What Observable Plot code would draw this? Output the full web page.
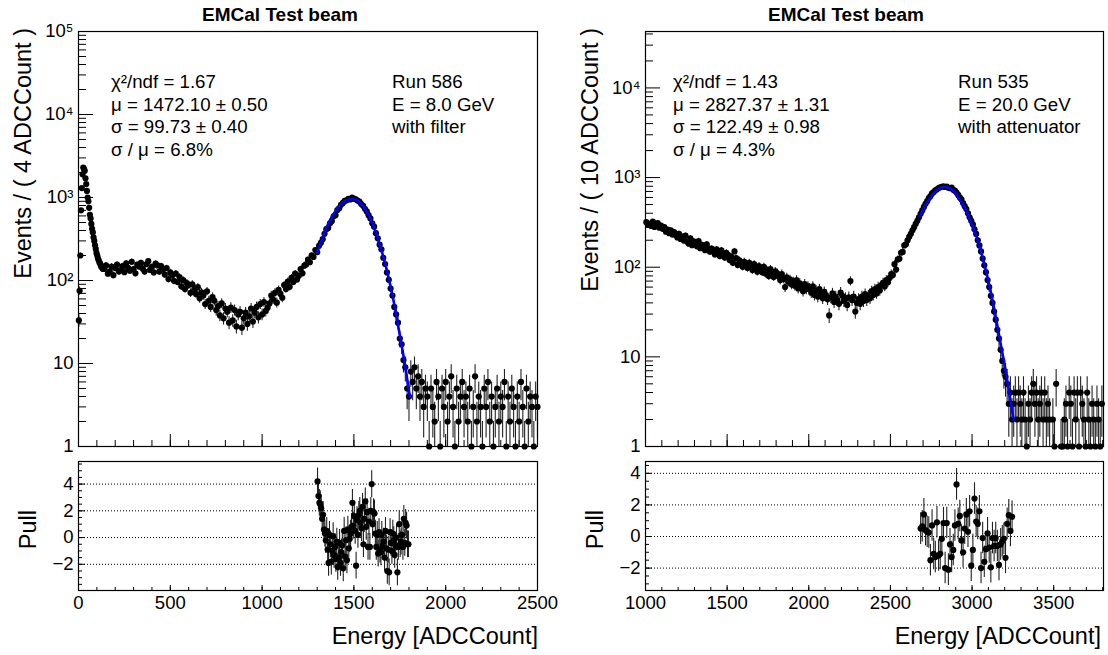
<!DOCTYPE html>
<html><head><meta charset="utf-8">
<script src="https://cdn.jsdelivr.net/npm/d3@7"></script>
<script src="https://cdn.jsdelivr.net/npm/@observablehq/plot@0.6"></script>
<style>
html,body{margin:0;padding:0;background:#fff;}
#chart{position:relative;width:1108px;height:655px;overflow:hidden;background:#fff;}
#chart > svg{position:absolute;}
</style></head><body><div id="chart"></div>
<script>
// ---------------- DATA ----------------
// Left panel (Run 586, 4 ADC bins)
const leftSpikeE = [2,6,10,14,18,22,26,30,34,38,42,46,50,54,58,62,66,70,74,78,82,86,90,94,98,102,106,110,114,118,122,126,130,134];
const leftSpikeN = [33,75,200,700,1300,1900,2300,2200,2100,1700,1450,1200,1000,900,750,620,560,480,420,380,330,300,265,240,215,200,185,175,165,160,150,145,140,138];
const leftBandStart = 140, leftBandStep = 10;
const leftBandN = [
138,152,121,129,147,116,141,155,128,133,
149,126,161,142,131,168,137,122,155,147,
163,139,128,157,171,134,146,125,160,152,
128,149,136,118,141,104,125,116,99,121,
96,110,85,101,79,93,88,71,90,77,
69,83,61,72,66,52,74,57,48,63,
57,44,49,38,53,35,46,42,31,47,
33,44,28,39,42,27,35,41,30,37,
46,32,41,48,36,52,39,55,43,47,
53,66,59,71,54,77,69,62,88,79,
97,84,108,96,121,103,114,137,122,151,
156,178,166,201,192,233,219,262,284,315,
366,415,428,489,520,594,612,705,744,815,
860,910,925,960,948,995,968,952,918,895,
835,795,730,680,612,560,488,445,372,322,
270,238,188,158,125,102,80,66,48,39,
31,20,17,11,9,5,4,
8,6,9,5,7,4,6,3,5,4,
1,5,3,2,6,4,1,5,3,6,
2,4,7,3,1,5,2,4,6,3,
4,2,5,1,3,7,2,4,3,1,
5,3,6,2,4,1,3,5,2,4,
3,6,1,4,2,5,3,1,4,2,
6,3,1,5,2,4,3,1,4,3];
const leftFitE = [1300,1325,1350,1375,1400,1425,1450,1475,1490,1510,1530,1550,1575,1600,1625,1650,1675,1700,1725,1750,1775,1805];
const leftFitN = [218,310,429,560,690,810,903,955,965,944,883,790,647,494,351,232,145,84,45,22,10.7,4.0];
const leftPullStart = 1302, leftPullStep = 5;
const leftPull = [
4.2,3.1,2.6,2.5,2.2,1.4,1.7,
0.6,0.3,-0.2,0.5,-0.9,-1.9,0.2,-0.5,-1.8,-1.0,0.1,-1.3,-0.7,
-1.6,-0.3,-2.2,-1.5,-0.4,-1.9,-1.1,-0.6,-2.3,0.5,-1.4,-0.2,-1.7,0.6,-0.8,-0.1,
0.3,0.8,2.6,0.9,1.6,0.5,-2.1,1.3,0.2,1.7,2.0,1.1,0.7,2.3,-0.5,1.4,2.7,0.8,1.9,-0.7,1.2,-0.7,2.0,4.0,
1.0,1.9,1.8,0.3,-0.7,0.2,-1.2,0.4,-0.9,-1.1,0.2,-0.6,-0.3,-1.5,0.5,-0.8,-2.5,-0.9,-2.6,0.4,
-0.4,-1.0,0.3,-0.2,-1.3,-0.6,0.0,-2.6,-0.7,1.0,-0.5,-0.3,0.2,-0.7,1.4,-0.4,1.1,0.9,-0.5,-0.5];

// Right panel (Run 535, 10 ADC bins)
const rightStart = 1005, rightStep = 10;
const rightN = [
318,296,305,289,322,281,300,310,276,292,
268,281,249,263,240,257,231,246,228,215,
236,207,219,198,225,192,183,210,176,194,
185,171,196,163,178,169,155,180,162,149,
161,152,139,158,147,133,154,141,128,145,
137,120,131,112,150,126,106,119,111,101,
115,104,98,112,101,93,108,97,89,103,
96,88,101,85,92,80,95,83,78,90,
86,79,72,84,74,60,77,69,73,64,
69,62,72,58,66,60,54,65,57,61,
58,52,61,49,55,47,57,50,45,53,
49,44,29,46,51,41,47,43,39,52,
48,42,45,38,46,70,43,47,32,40,
44,39,47,42,50,43,48,45,54,49,
57,51,60,55,63,67,61,72,68,76,
84,82,108,94,122,124,145,148,175,180,
200,218,236,258,280,305,330,360,395,430,
470,510,545,590,620,665,690,720,740,765,
780,790,800,785,795,770,760,775,730,715,
680,640,600,570,520,480,445,400,360,330,
300,265,235,200,175,150,125,105,88,72,
60,48,40,32,26,20,16,12,9,7,
6,5,3,4,2,3,
4,2,4,3,2,4,2,1,3,2,
4,5,3,4,2,3,4,2,4,2,
3,2,0,2,1,5,0,0,1,1,
2,3,1,4,3,1,4,2,4,1,
4,3,2,1,4,2,1,3,2,1,
3,2,1,3];
const rightFitE = [2680,2700,2725,2750,2775,2800,2830,2860,2890,2920,2950,2975,3000,3025,3050,3075,3100,3125,3150,3175,3200,3225,3254];
const rightFitN = [373,440,530,620,700,760,790,765,700,590,480,385,300,225,160,108,70,43,25,14,8,4.3,2.0];
const rightPullStart = 2685, rightPullStep = 10;
const rightPull = [0.5,0.65,1.4,0.4,0.3,0.25,-1.5,0.7,-1.1,-1.3,
0.9,-1.2,-1.1,-0.15,0.85,-2.0,0.85,-2.1,-0.5,-1.3,
-0.85,0.7,3.3,0.8,1.3,-0.25,-1.0,0.5,1.4,0.3,
1.6,-1.85,-0.85,2.4,0.95,0.8,1.6,-2.0,-0.1,-1.6,
-0.8,0.2,-0.7,-1.95,-0.1,-0.6,-0.1,-0.6,-1.8,-0.5,
-0.3,-0.15,-1.35,0.8,1.35,0.35,1.25];

// Axis ticks & labels
const leftYTicks = [1,10,100,1000,10000,100000];
const leftYLabels = ["1","10","10²","10³","10⁴","10⁵"];
const rightYTicks = [1,10,100,1000,10000];
const rightYLabels = ["1","10","10²","10³","10⁴"];
const leftXTicks = [0,500,1000,1500,2000,2500];
const rightXTicks = [1000,1500,2000,2500,3000,3500];
const pullTicks = [-2,0,2,4];
const pullGrid = [-2,0,2,4];

// Text
const titleText = "EMCal Test beam";
const leftStats = ["χ²/ndf = 1.67","μ = 1472.10 ± 0.50","σ = 99.73 ± 0.40","σ / μ = 6.8%"];
const leftRun = ["Run 586","E = 8.0 GeV","with filter"];
const rightStats = ["χ²/ndf = 1.43","μ = 2827.37 ± 1.31","σ = 122.49 ± 0.98","σ / μ = 4.3%"];
const rightRun = ["Run 535","E = 20.0 GeV","with attenuator"];
const leftYTitle = "Events / ( 4 ADCCount )";
const rightYTitle = "Events / ( 10 ADCCount )";
const pullTitle = "Pull";
const xTitle = "Energy [ADCCount]";

// ---------------- BUILD ----------------
const FONT = '"Liberation Sans", Arial, Helvetica, sans-serif';
const withErr = d => { const s = Math.sqrt(d.N); return {...d, lo: Math.max(d.N - s, 1), hi: d.N + s}; };
const leftData = [
  ...leftSpikeE.map((E,i)=>({E, N: leftSpikeN[i]})),
  ...leftBandN.map((N,i)=>({E: leftBandStart + i*leftBandStep, N}))
].filter(d=>d.N>0).map(withErr);
const rightData = rightN.map((N,i)=>({E: rightStart + i*rightStep, N})).filter(d=>d.N>0).map(withErr);
const leftFit = leftFitE.map((E,i)=>({E, N: leftFitN[i]}));
const rightFit = rightFitE.map((E,i)=>({E, N: rightFitN[i]}));
const leftPullData = leftPull.map((p,i)=>({E: leftPullStart + i*leftPullStep, p}));
const rightPullData = rightPull.map((p,i)=>({E: rightPullStart + i*rightPullStep, p}));

const fmtNum = d => d < 0 ? "\u2212" + (-d) : String(d);

function logMinor(lo, hi){
  const out = [];
  for (let e = Math.floor(Math.log10(lo)); e <= Math.ceil(Math.log10(hi)); e++)
    for (let m = 2; m <= 9; m++){ const v = m*Math.pow(10,e); if (v>lo && v<hi) out.push(v); }
  return out;
}

function mainPanel(o){
  const W=560, H=460, mT=31, mB=14;
  const fw = W - o.mL - o.mR, fh = H - mT - mB;
  const lab = new Map(o.yTicks.map((t,i)=>[t,o.yLabels[i]]));
  const xMinor = d3.range(o.xDomain[0], o.xDomain[1]+1, 100);
  return Plot.plot({
    width:W, height:H, marginLeft:o.mL, marginRight:o.mR, marginTop:mT, marginBottom:mB,
    style:{fontFamily:FONT, fontSize:"18px", background:"transparent", color:"#000", overflow:"visible"},
    x:{domain:o.xDomain, axis:null},
    y:{type:"log", domain:o.yDomain},
    marks:[
      Plot.tickY(logMinor(o.yDomain[0], o.yDomain[1]), {y:d=>d, insetRight: fw-8, stroke:"#000"}),
      Plot.tickY(o.yTicks, {y:d=>d, insetRight: fw-15, stroke:"#000"}),
      Plot.tickX(xMinor, {x:d=>d, insetTop: fh-6, stroke:"#000"}),
      Plot.tickX(o.xTicks, {x:d=>d, insetTop: fh-12, stroke:"#000"}),
      Plot.axisY({ticks:o.yTicks, anchor:"left", tickSize:0, tickPadding:5, tickFormat:d=>lab.get(d), label:null, fontSize:18.5}),
      Plot.ruleX(o.data, {x:"E", y1:"lo", y2:"hi", stroke:"#222", strokeWidth:1.1}),
      Plot.dot(o.data, {x:"E", y:"N", r:3.1, fill:"#000"}),
      Plot.line(o.fit, {x:"E", y:"N", stroke:"#0000ff", strokeWidth:2.6, curve:"natural"}),
      Plot.frame({stroke:"#000", strokeWidth:1.2})
    ]
  });
}

function pullPanel(o){
  const W=560, H=180, mT=21, mB=30;
  const fw = W - o.mL - o.mR, fh = H - mT - mB;
  const xMinor = d3.range(o.xDomain[0], o.xDomain[1]+1, 100);
  const yMinor = d3.range(-4, 6.01, 0.5).filter(v => v > o.yDomain[0] && v < o.yDomain[1]);
  return Plot.plot({
    width:W, height:H, marginLeft:o.mL, marginRight:o.mR, marginTop:mT, marginBottom:mB,
    style:{fontFamily:FONT, fontSize:"18px", background:"transparent", color:"#000", overflow:"visible"},
    x:{domain:o.xDomain},
    y:{domain:o.yDomain},
    marks:[
      Plot.ruleY(pullGrid, {y:d=>d, stroke:"#000", strokeWidth:1, strokeDasharray:"1,2"}),
      Plot.tickY(yMinor, {y:d=>d, insetRight: fw-4, stroke:"#000"}),
      Plot.tickY(pullTicks, {y:d=>d, insetRight: fw-7, stroke:"#000"}),
      Plot.tickX(xMinor, {x:d=>d, insetTop: fh-3, stroke:"#000"}),
      Plot.tickX(o.xTicks, {x:d=>d, insetTop: fh-5, stroke:"#000"}),
      Plot.axisY({ticks:pullTicks, anchor:"left", tickSize:0, tickPadding:5, tickFormat:fmtNum, label:null, fontSize:18.5}),
      Plot.axisX({ticks:o.xTicks, anchor:"bottom", tickSize:0, tickPadding:5, tickFormat:fmtNum, label:null, fontSize:18.5}),
      Plot.ruleX(o.data, {x:"E", y1:d=>d.p-1, y2:d=>d.p+1, stroke:"#222", strokeWidth:1.1}),
      Plot.dot(o.data, {x:"E", y:"p", r:3.1, fill:"#000"}),
      Plot.frame({stroke:"#000", strokeWidth:1.2})
    ]
  });
}

const chart = document.getElementById("chart");
function place(svg, left, top){ svg.style.position="absolute"; svg.style.left=left+"px"; svg.style.top=top+"px"; chart.appendChild(svg); }

place(mainPanel({data:leftData, fit:leftFit, xDomain:[0,2500], yDomain:[1,1e5], xTicks:leftXTicks, yTicks:leftYTicks, yLabels:leftYLabels, mL:78, mR:23}), 0, 0);
place(pullPanel({data:leftPullData, xDomain:[0,2500], yDomain:[-3.96,5.69], xTicks:leftXTicks, mL:78, mR:23}), 0, 440);
place(mainPanel({data:rightData, fit:rightFit, xDomain:[1000,3805], yDomain:[1,42600], xTicks:rightXTicks, yTicks:rightYTicks, yLabels:rightYLabels, mL:97, mR:5}), 548, 0);
place(pullPanel({data:rightPullData, xDomain:[1000,3805], yDomain:[-3.42,4.75], xTicks:rightXTicks, mL:97, mR:5}), 548, 440);

// ---------------- TEXT OVERLAY ----------------
const ov = d3.select(chart).append("svg")
  .attr("width",1108).attr("height",655)
  .style("position","absolute").style("left","0px").style("top","0px")
  .attr("font-family", FONT).attr("fill","#000");

function txt(x, y, s, size, opts={}){
  const t = ov.append("text").attr("x",x).attr("y",y).attr("font-size",size).text(s);
  if (opts.anchor) t.attr("text-anchor",opts.anchor);
  if (opts.weight) t.attr("font-weight",opts.weight);
  if (opts.rotate) t.attr("x",0).attr("y",0).attr("transform",`translate(${x},${y}) rotate(-90)`);
  return t;
}
txt(280, 20.5, titleText, 19, {anchor:"middle", weight:"bold"});
txt(846, 20.5, titleText, 19, {anchor:"middle", weight:"bold"});
const lh = 22.6;
leftStats.forEach((s,i)=>txt(111, 88 + i*lh, s, 18.7));
leftRun.forEach((s,i)=>txt(392, 88 + i*lh, s, 18.7));
rightStats.forEach((s,i)=>txt(673, 88 + i*lh, s, 18.7));
rightRun.forEach((s,i)=>txt(958, 88 + i*lh, s, 18.7));
txt(31, 28, leftYTitle, 23.5, {anchor:"end", rotate:true});
txt(598, 28, rightYTitle, 23.5, {anchor:"end", rotate:true});
txt(36, 510, pullTitle, 23.5, {anchor:"end", rotate:true});
txt(603, 510, pullTitle, 23.5, {anchor:"end", rotate:true});
txt(538, 644, xTitle, 23.5, {anchor:"end"});
txt(1101, 644, xTitle, 23.5, {anchor:"end"});
</script></body></html>
